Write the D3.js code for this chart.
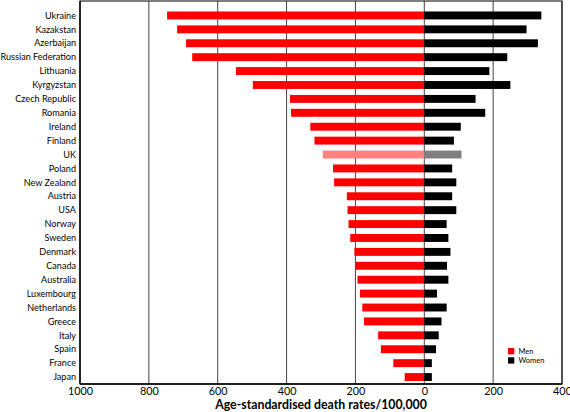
<!DOCTYPE html>
<html><head><meta charset="utf-8">
<script src="https://cdn.jsdelivr.net/npm/d3@7"></script>
<style>body{margin:0;background:#fff}svg{display:block}</style>
</head><body>
<svg id="c" width="570" height="412"></svg>
<script>
const countries = ["Ukraine","Kazakstan","Azerbaijan","Russian Federation","Lithuania","Kyrgyzstan","Czech Republic","Romania","Ireland","Finland","UK","Poland","New Zealand","Austria","USA","Norway","Sweden","Denmark","Canada","Australia","Luxembourg","Netherlands","Greece","Italy","Spain","France","Japan"];
const men =   [747,718,692,674,547,498,390,387,331,319,295,265,262,225,223,220,215,203,199,194,187,180,175,134,126,90,57];
const women = [340,297,330,241,189,250,149,177,106,86,108,81,93,81,93,65,70,76,66,70,37,65,50,42,34,22,22];
const tickValues = [-1000,-800,-600,-400,-200,0,200,400];
const tickLabels = ["1000","800","600","400","200","0","200","400"];
const highlight = "UK";
const legendItems = [{label:"Men", color:"#ff0000"},{label:"Women", color:"#000000"}];
const axisTitle = "Age-standardised death rates/100,000";

const svg = d3.select("#c");
const font = "Lato, 'Open Sans', sans-serif";
const L = 80, R = 562, T = 1, B = 384;
const x = d3.scaleLinear().domain([-1000,400]).range([L,R]);
const y = d3.scaleBand().domain(countries).range([8.5,384]).paddingInner(0.43).paddingOuter(0.215);

// gridlines
svg.append("g").selectAll("line").data(tickValues.slice(1)).join("line")
  .attr("x1",d=>x(d)).attr("x2",d=>x(d)).attr("y1",T).attr("y2",B)
  .attr("stroke","#444").attr("stroke-width",1);

const data = countries.map((c,i)=>({c, m:men[i], w:women[i]}));
svg.append("g").selectAll("rect").data(data).join("rect")
  .attr("x",d=>x(-d.m)).attr("width",d=>x(0)-x(-d.m))
  .attr("y",d=>y(d.c)).attr("height",y.bandwidth())
  .attr("fill",d=>d.c===highlight?"#ff8080":"#ff0000");
svg.append("g").selectAll("rect").data(data).join("rect")
  .attr("x",x(0)).attr("width",d=>x(d.w)-x(0))
  .attr("y",d=>y(d.c)).attr("height",y.bandwidth())
  .attr("fill",d=>d.c===highlight?"#808080":"#000000");

// frame
svg.append("rect").attr("x",L).attr("y",T).attr("width",R-L).attr("height",B-T)
  .attr("fill","none").attr("stroke","#000").attr("stroke-width",1);
svg.append("line").attr("x1",L).attr("x2",R).attr("y1",B).attr("y2",B).attr("stroke","#000").attr("stroke-width",1.6);
svg.append("line").attr("x1",L).attr("x2",L).attr("y1",T).attr("y2",B).attr("stroke","#000").attr("stroke-width",1.4);

// x axis labels
const xa = d3.axisBottom(x).tickValues(tickValues).tickSize(0).tickPadding(3.5)
  .tickFormat((d,i)=>tickLabels[i]);
const gx = svg.append("g").attr("transform",`translate(0,${B})`).call(xa);
gx.select(".domain").remove();
gx.selectAll("text").attr("font-family",font).attr("font-size",10.8).attr("fill","#000");

// y labels
const ya = d3.axisLeft(y).tickSize(0).tickPadding(4);
const gy = svg.append("g").attr("transform",`translate(${L},0)`).call(ya);
gy.select(".domain").remove();
const yt = gy.selectAll("text").attr("font-family",font).attr("font-size",10).attr("fill","#000");
// condense labels to match the narrow reference face
let refW = 0;
yt.each(function(d){ if(d==="Russian Federation") refW = this.getComputedTextLength(); });
const k = refW ? 75.5/refW : 1;
yt.each(function(){ const w=this.getComputedTextLength(); d3.select(this).attr("textLength",w*k).attr("lengthAdjust","spacingAndGlyphs"); });

// axis title
svg.append("text").attr("x",(L+R)/2).attr("y",408.5).attr("text-anchor","middle")
  .attr("font-family",font).attr("font-weight","bold").attr("font-size",12.3).text(axisTitle);

// legend
const lg = svg.append("g").attr("transform","translate(508,348)");
lg.selectAll("rect").data(legendItems).join("rect")
  .attr("x",0).attr("y",(d,i)=>i*9.3).attr("width",6.3).attr("height",6.3).attr("fill",d=>d.color);
lg.selectAll("text").data(legendItems).join("text")
  .attr("x",10.5).attr("y",(d,i)=>i*9.3+6).attr("font-family",font).attr("font-size",7.5).text(d=>d.label);
</script>
</body></html>
